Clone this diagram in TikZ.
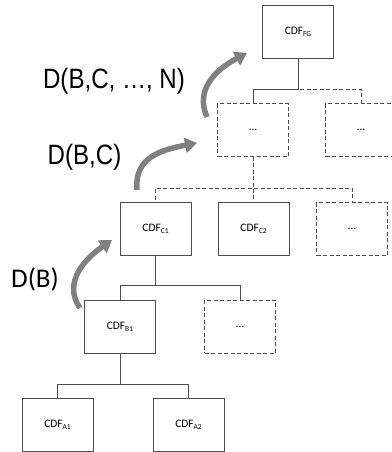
\documentclass[tikz,border=0pt]{standalone}
\usepackage{fontspec}
\setmainfont{Carlito}
\newfontfamily\lblfont[FakeStretch=0.86]{Liberation Sans}
\usetikzlibrary{arrows.meta}
\newcommand{\cdf}[1]{CDF\raisebox{-2.2pt}{\fontsize{7.5}{8}\selectfont #1}}

\begin{document}
\begin{tikzpicture}[x=1pt, y=-1pt,
    cdfbox/.style={draw=black!70, line width=0.9pt, minimum width=71pt, minimum height=53pt, inner sep=0pt, font=\fontsize{11.4}{13}\selectfont},
    openbox/.style={cdfbox, dash pattern=on 4pt off 2.5pt},
    link/.style={draw=black!70, line width=0.9pt},
    openlink/.style={link, dash pattern=on 4pt off 2.5pt},
    growth/.style={draw=gray, line width=5.5pt, -{Triangle[width=15pt,length=12pt]}},
    dlabel/.style={anchor=base, inner sep=0pt, font=\fontsize{28}{30}\selectfont}]
        \useasboundingbox (0,0) rectangle (391,452);

        % Top level
        \node[cdfbox] (FG) at (298,32) {\cdf{FG}};
        \node[openbox] (dotsL) at (253,130) {\dots};
        \node[openbox] (dotsR) at (361,130) {\dots};

        % C level
        \node[cdfbox] (C1) at (155.5,229) {\cdf{C1}};
        \node[cdfbox] (C2) at (253.5,229) {\cdf{C2}};
        \node[openbox] (dotsC) at (352,229) {\dots};

        % B level
        \node[cdfbox] (B1) at (120,326.5) {\cdf{B1}};
        \node[openbox] (dotsB) at (240,326.5) {\dots};

        % A level
        \node[cdfbox] (A1) at (57.5,425) {\cdf{A1}};
        \node[cdfbox] (A2) at (188.5,425) {\cdf{A2}};

        % Tree links
        \draw[openlink] (FG.south) |- ([yshift=14pt]dotsR.north) -- (dotsR.north);
        \draw[link] (FG.south) |- ([yshift=14pt]dotsL.north) -- (dotsL.north);
        \foreach \child in {C1,C2,dotsC}
            \draw[openlink] (dotsL.south) |- ([yshift=14pt]\child.north) -- (\child.north);
        \foreach \child in {B1,dotsB}
            \draw[link] (C1.south) |- ([yshift=14pt]\child.north) -- (\child.north);
        \foreach \child in {A1,A2}
            \draw[link] (B1.south) |- ([yshift=14pt]\child.north) -- (\child.north);

        % Growth arrows
        \coordinate (gB0) at (80,308);   \coordinate (gB1) at (112,240);
        \coordinate (gC0) at (137,190);  \coordinate (gC1) at (197,143);
        \coordinate (gN0) at (207,117);  \coordinate (gN1) at (247,53);
        \draw[growth] (gB0) .. controls (62,282) and (86,258) .. (gB1);
        \draw[growth] (gC0) .. controls (134,158) and (160,150) .. (gC1);
        \draw[growth] (gN0) .. controls (195,90) and (215,70) .. (gN1);

        % Labels
        \node[dlabel, font=\fontsize{27}{30}\selectfont] (lB) at (35,287) {D(B)};
        \node[dlabel, font=\lblfont\fontsize{28}{30}\selectfont] (lC) at (84.5,164) {D(B,C)};
        \node[dlabel, font=\lblfont\fontsize{28}{30}\selectfont] (lN) at (114,88) {D(B,C, \dots, N)};
    \end{tikzpicture}
\end{document}
